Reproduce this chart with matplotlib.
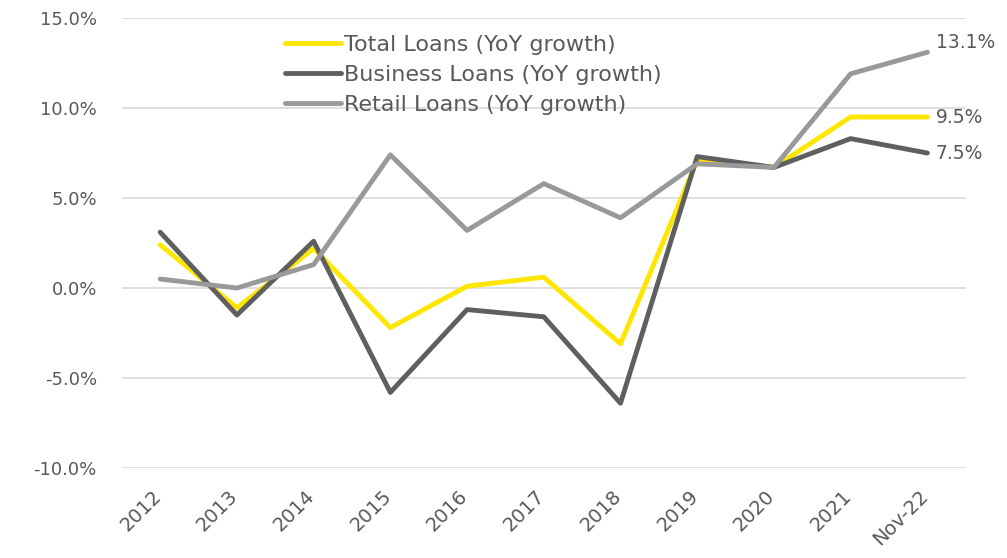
import matplotlib
matplotlib.use('Agg')
import matplotlib.pyplot as plt
from matplotlib.ticker import FuncFormatter, MultipleLocator
from matplotlib.transforms import ScaledTranslation

# Datos: crecimiento interanual de préstamos (%)
years = ['2012', '2013', '2014', '2015', '2016', '2017', '2018', '2019', '2020', '2021', 'Nov-22']
total_loans = [2.4, -1.1, 2.2, -2.2, 0.1, 0.6, -3.1, 7.1, 6.7, 9.5, 9.5]
business_loans = [3.1, -1.5, 2.6, -5.8, -1.2, -1.6, -6.4, 7.3, 6.7, 8.3, 7.5]
retail_loans = [0.5, 0.0, 1.3, 7.4, 3.2, 5.8, 3.9, 6.9, 6.7, 11.9, 13.1]
series_names = ['Total Loans (YoY growth)', 'Business Loans (YoY growth)', 'Retail Loans (YoY growth)']

plt.rcParams['font.family'] = ['DejaVu Sans']
txt = '#595959'

fig = plt.figure(figsize=(10.07, 5.58), dpi=100)
ax = fig.add_axes([0.121, 0.1613, 0.838, 0.8064])

x = range(len(years))
ax.plot(x, total_loans, color='#FFE600', lw=3.5, label=series_names[0], solid_capstyle='round')
ax.plot(x, business_loans, color='#5F5F5F', lw=3.5, label=series_names[1], solid_capstyle='round')
ax.plot(x, retail_loans, color='#999999', lw=3.5, label=series_names[2], solid_capstyle='round')

# Etiquetas del último punto
for vals in (total_loans, business_loans, retail_loans):
    ax.annotate(f'{vals[-1]:.1f}%', (len(years) - 1, vals[-1]), xytext=(6, 0),
                textcoords='offset points', va='center' if vals is not retail_loans else 'bottom',
                fontsize=13.5, color=txt, annotation_clip=False)

ax.set_xlim(-0.5, len(years) - 0.5)
ax.set_ylim(-10, 15)
ax.yaxis.set_major_locator(MultipleLocator(5))
ax.yaxis.set_major_formatter(FuncFormatter(lambda v, p: f'{v:.1f}%'))
ax.grid(axis='y', color='#D9D9D9', lw=1.2)
ax.set_axisbelow(True)
for s in ax.spines.values():
    s.set_visible(False)
ax.tick_params(axis='both', length=0, labelsize=13, labelcolor=txt)
ax.tick_params(axis='y', pad=18)
ax.set_xticks(list(x))
ax.set_xticklabels(years, rotation=45, ha='right', va='center', rotation_mode='anchor', fontsize=14)
offset = ScaledTranslation(-0.02, -0.20, fig.dpi_scale_trans)
for lab in ax.get_xticklabels():
    lab.set_transform(lab.get_transform() + offset)

ax.legend(loc='upper left', bbox_to_anchor=(0.283, 0.938), bbox_transform=fig.transFigure,
          frameon=False, fontsize=16, labelcolor=txt, handlelength=2.5, handletextpad=0.15,
          labelspacing=0.45, borderpad=0, borderaxespad=0)

plt.savefig('out.png', dpi=100)
